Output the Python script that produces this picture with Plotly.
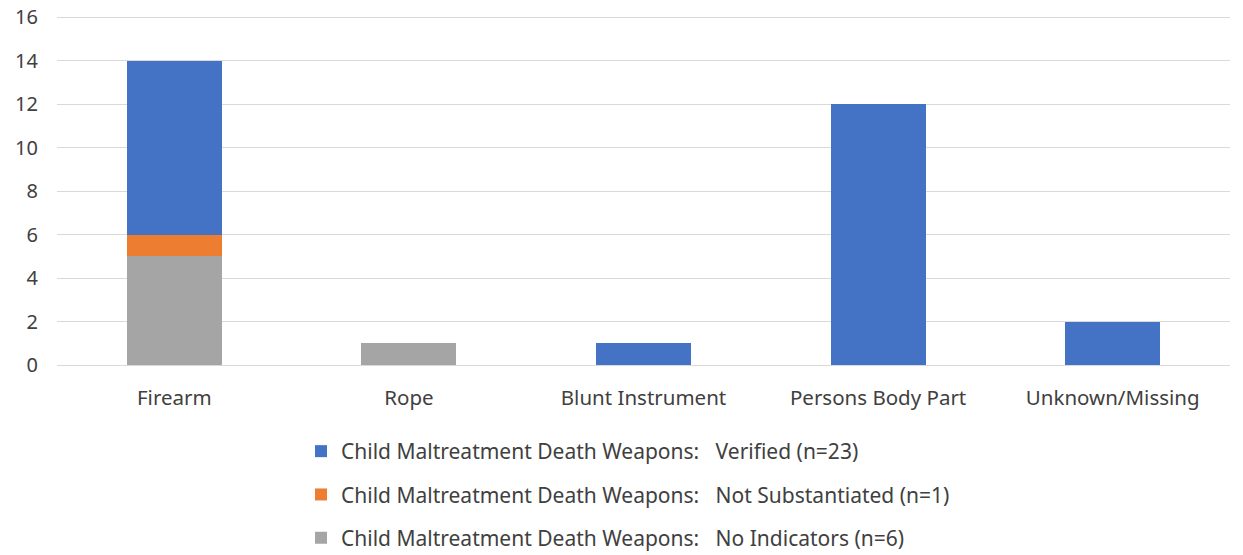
import plotly.graph_objects as go

categories = ["Firearm", "Rope", "Blunt Instrument", "Persons Body Part", "Unknown/Missing"]
verified = [8, 0, 1, 12, 2]
not_substantiated = [1, 0, 0, 0, 0]
no_indicators = [5, 1, 0, 0, 0]
y_ticks = [0, 2, 4, 6, 8, 10, 12, 14, 16]

prefix = "Child Maltreatment Death Weapons:\u00a0\u00a0\u00a0"
series = [
    ("No Indicators (n=6)", no_indicators, "#A5A5A5", 3),
    ("Not Substantiated (n=1)", not_substantiated, "#ED7D31", 2),
    ("Verified (n=23)", verified, "#4472C4", 1),
]

fig = go.Figure()
for i, (name, vals, color, rank) in enumerate(series):
    fig.add_trace(go.Bar(
        x=categories, y=vals, name=prefix + name,
        marker=dict(color=color, line=dict(width=0)),
        legendgroup=f"g{i}", legendrank=rank,
    ))

W, H = 1243, 555
fig.update_layout(
    barmode="stack",
    bargap=0.595,
    width=W, height=H,
    margin=dict(l=57, r=13, t=16, b=190, autoexpand=False),
    paper_bgcolor="white", plot_bgcolor="white",
    font=dict(family="Noto Sans, Open Sans, sans-serif", size=20, color="#404040"),
    yaxis=dict(range=[0, 16.05], tickvals=y_ticks,
               showgrid=True, gridcolor="#D9D9D9", gridwidth=1.3,
               zeroline=False, ticks="", ticklabelstandoff=18,
               tickfont=dict(size=20, color="#404040"), showline=False),
    xaxis=dict(showline=True, linecolor="#D9D9D9", linewidth=1.3, ticks="",
               ticklabelstandoff=14, tickfont=dict(size=20.5, color="#404040")),
    legend=dict(orientation="v", x=0.208, xanchor="left",
                yref="container", y=(H - 431) / H, yanchor="top",
                traceorder="grouped", tracegroupgap=13,
                font=dict(size=21, color="#404040"), itemwidth=30),
    showlegend=True,
)

fig.write_html("out.html", config={"displayModeBar": False},
               post_script="document.body.style.margin='0';document.body.style.overflow='hidden';")
